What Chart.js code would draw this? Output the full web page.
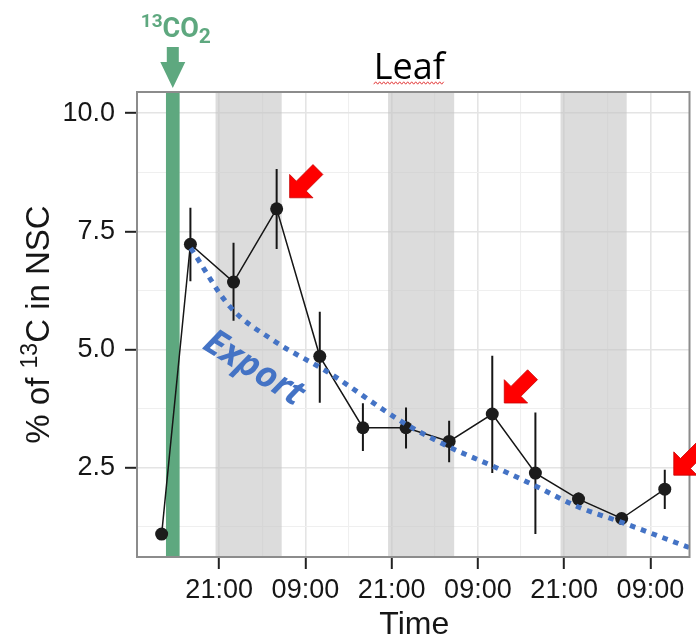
<!DOCTYPE html>
<html>
<head>
<meta charset="utf-8">
<script src="https://cdn.jsdelivr.net/npm/chart.js@4.4.1/dist/chart.umd.min.js"></script>
<style>
  html, body { margin: 0; padding: 0; background: #fff; }
  #wrap { width: 696px; height: 639px; position: relative; }
</style>
</head>
<body>
<div id="wrap"><canvas id="leaf"></canvas></div>
<script>
// Sampling times, in hours counted from midnight of day 1
const sampleHours = [13, 17, 23, 29, 35, 41, 47, 53, 59, 65, 71, 77, 83];
// Mean % of 13C in NSC and the ends of each error bar
const meanPct = [1.10, 7.23, 6.43, 7.98, 4.86, 3.35, 3.35, 3.06, 3.64, 2.39, 1.84, 1.43, 2.05];
const errLow  = [1.10, 6.45, 5.61, 7.13, 3.88, 2.86, 2.91, 2.62, 2.39, 1.10, 1.67, 1.37, 1.63];
const errHigh = [1.10, 8.00, 7.26, 8.82, 5.80, 3.87, 3.78, 3.50, 4.87, 3.67, 1.98, 1.49, 2.46];

// Export trend line
const exportHours = [17.05, 22.5, 28.4, 36.3, 46.4, 52.9, 58.9, 65.0, 70.9, 76.8, 86.5];
const exportPct   = [7.15, 5.91, 5.21, 4.51, 3.48, 2.95, 2.55, 2.12, 1.68, 1.36, 0.81];

// Dark periods and the labelling pulse (hours)
const nightStart = [20.5, 44.5, 68.5];
const nightEnd   = [29.7, 53.7, 77.7];
const pulseWindow = [13.6, 15.5];

// Axis ticks
const yTickValues = [1.25, 2.5, 3.75, 5, 6.25, 7.5, 8.75, 10];
const yMajor = [2.5, 5, 7.5, 10];
const xTickHours = [15, 21, 27, 33, 39, 45, 51, 57, 63, 69, 75, 81];
const xMajor = [21, 33, 45, 57, 69, 81];

// Peaks marked with red arrows
const highlighted = [3, 8, 12];

const GREEN = '#5ea87f';
const BLUE = '#4473c5';
const INK = '#161616';
const SANS = '"Liberation Sans", Arial, sans-serif';

const clockLabel = h => String(h % 24).padStart(2, '0') + ':00';

const backdrop = {
  id: 'backdrop',
  beforeDatasetsDraw(chart) {
    const { ctx, chartArea: a, scales: { x, y } } = chart;
    ctx.save();
    ctx.beginPath();
    ctx.rect(a.left, a.top, a.right - a.left, a.bottom - a.top);
    ctx.clip();
    // night shading
    ctx.fillStyle = 'rgba(196,196,196,0.6)';
    nightStart.forEach((s, i) => {
      const x0 = x.getPixelForValue(s), x1 = x.getPixelForValue(nightEnd[i]);
      ctx.fillRect(x0, a.top, x1 - x0, a.bottom - a.top);
    });
    // 13CO2 pulse
    const g0 = x.getPixelForValue(pulseWindow[0]), g1 = x.getPixelForValue(pulseWindow[1]);
    ctx.fillStyle = GREEN;
    ctx.fillRect(g0, a.top, g1 - g0, a.bottom - a.top);
    // error bars
    ctx.strokeStyle = INK;
    ctx.lineWidth = 2;
    sampleHours.forEach((h, i) => {
      if (errHigh[i] - errLow[i] <= 0) return;
      const px = x.getPixelForValue(h);
      ctx.beginPath();
      ctx.moveTo(px, y.getPixelForValue(errLow[i]));
      ctx.lineTo(px, y.getPixelForValue(errHigh[i]));
      ctx.stroke();
    });
    ctx.restore();
  }
};

function drawBlockArrow(ctx, tx, ty) {
  // arrow pointing down-left, tip at (tx, ty)
  const L = 40, hl = 16.5, hw = 16.5, sw = 7;
  const u = [-Math.SQRT1_2, Math.SQRT1_2];
  const n = [Math.SQRT1_2, Math.SQRT1_2];
  const pt = (a, p) => [tx - a * u[0] + p * n[0], ty - a * u[1] + p * n[1]];
  const pts = [pt(0, 0), pt(hl, hw), pt(hl, sw), pt(L, sw), pt(L, -sw), pt(hl, -sw), pt(hl, -hw)];
  ctx.beginPath();
  pts.forEach((p, i) => i ? ctx.lineTo(p[0], p[1]) : ctx.moveTo(p[0], p[1]));
  ctx.closePath();
  ctx.fillStyle = '#ff0000';
  ctx.fill();
  ctx.strokeStyle = '#c80000';
  ctx.lineWidth = 0.8;
  ctx.stroke();
}

const arrowOffsets = [[13, -11], [12, -11], [9, -14]];
const exportLabel = { hour: 25.8, value: 4.6, angle: 32 };

const overlay = {
  id: 'overlay',
  afterDraw(chart) {
    const { ctx, chartArea: a, scales: { x, y } } = chart;
    ctx.save();

    // panel border
    ctx.strokeStyle = '#8c8c8c';
    ctx.lineWidth = 2;
    ctx.strokeRect(a.left, a.top, a.right - a.left, a.bottom - a.top);

    // "Export" label along the trend
    ctx.save();
    ctx.translate(x.getPixelForValue(exportLabel.hour), y.getPixelForValue(exportLabel.value));
    ctx.rotate(exportLabel.angle * Math.PI / 180);
    ctx.font = 'italic bold 36px "Open Sans", sans-serif';
    ctx.fillStyle = BLUE;
    ctx.textAlign = 'center';
    ctx.textBaseline = 'middle';
    ctx.fillText('Export', 0, 0);
    ctx.restore();

    // red arrows at the peaks
    highlighted.forEach((idx, k) => {
      const px = x.getPixelForValue(sampleHours[idx]);
      const py = y.getPixelForValue(meanPct[idx]);
      drawBlockArrow(ctx, px + arrowOffsets[k][0], py + arrowOffsets[k][1]);
    });

    // panel title with spelling squiggle
    ctx.font = '36px "Open Sans", sans-serif';
    ctx.fillStyle = '#000';
    ctx.textAlign = 'center';
    ctx.textBaseline = 'alphabetic';
    const tcx = (a.left + a.right) / 2 - 4;
    ctx.fillText('Leaf', tcx, 79);
    const tw = ctx.measureText('Leaf').width;
    ctx.beginPath();
    ctx.strokeStyle = '#e23b3b';
    ctx.lineWidth = 1;
    for (let sx = tcx - tw / 2, k = 0; sx <= tcx + tw / 2; sx += 2, k++) {
      const sy = 83 + (k % 2 ? -1.2 : 1.2);
      k ? ctx.lineTo(sx, sy) : ctx.moveTo(sx, sy);
    }
    ctx.stroke();

    // 13CO2 pulse marker
    const gcx = (x.getPixelForValue(pulseWindow[0]) + x.getPixelForValue(pulseWindow[1])) / 2;
    ctx.fillStyle = GREEN;
    ctx.beginPath();
    ctx.moveTo(gcx - 6, 47);
    ctx.lineTo(gcx + 6, 47);
    ctx.lineTo(gcx + 6, 62);
    ctx.lineTo(gcx + 12.5, 62);
    ctx.lineTo(gcx, 88);
    ctx.lineTo(gcx - 12.5, 62);
    ctx.lineTo(gcx - 6, 62);
    ctx.closePath();
    ctx.fill();

    const parts = [
      ['13', 'bold 19px Roboto, sans-serif', 27],
      ['CO', 'bold 27px Roboto, sans-serif', 37],
      ['2', 'bold 21px Roboto, sans-serif', 43]
    ];
    let total = 0;
    parts.forEach(p => { ctx.font = p[1]; total += ctx.measureText(p[0]).width; });
    let cx = gcx + 3 - total / 2;
    ctx.textAlign = 'left';
    parts.forEach(p => {
      ctx.font = p[1];
      ctx.fillText(p[0], cx, p[2]);
      cx += ctx.measureText(p[0]).width;
    });

    // y axis title with superscript
    ctx.save();
    ctx.translate(49, (a.top + a.bottom) / 2);
    ctx.rotate(-Math.PI / 2);
    ctx.fillStyle = INK;
    const yParts = [
      ['% of ', '33px ' + SANS, 0],
      ['13', '23px ' + SANS, -12],
      ['C in NSC', '33px ' + SANS, 0]
    ];
    let yw = 0;
    yParts.forEach(p => { ctx.font = p[1]; yw += ctx.measureText(p[0]).width; });
    let yx = -yw / 2;
    ctx.textAlign = 'left';
    yParts.forEach(p => {
      ctx.font = p[1];
      ctx.fillText(p[0], yx, p[2]);
      yx += ctx.measureText(p[0]).width;
    });
    ctx.restore();

    // x axis title
    ctx.font = '32px ' + SANS;
    ctx.fillStyle = INK;
    ctx.textAlign = 'center';
    ctx.fillText('Time', (a.left + a.right) / 2 + 1, 634);

    ctx.restore();
  }
};

new Chart(document.getElementById('leaf'), {
  type: 'line',
  data: {
    datasets: [
      {
        label: 'Export',
        data: exportHours.map((h, i) => ({ x: h, y: exportPct[i] })),
        borderColor: BLUE,
        borderWidth: 5,
        borderDash: [5.5, 6],
        pointRadius: 0,
        fill: false,
        cubicInterpolationMode: 'monotone',
        order: 0
      },
      {
        label: '% of 13C in NSC',
        data: sampleHours.map((h, i) => ({ x: h, y: meanPct[i] })),
        borderColor: INK,
        borderWidth: 1.5,
        pointRadius: 6.5,
        pointBackgroundColor: '#1c1c1c',
        pointBorderColor: '#1c1c1c',
        pointBorderWidth: 0,
        tension: 0,
        fill: false,
        order: 1
      }
    ]
  },
  options: {
    responsive: true,
    maintainAspectRatio: false,
    animation: false,
    layout: { padding: { top: 92, right: 4, left: 0, bottom: 0 } },
    plugins: { legend: { display: false }, tooltip: { enabled: false }, title: { display: false } },
    scales: {
      x: {
        type: 'linear',
        min: 9.57,
        max: 86.44,
        afterBuildTicks(scale) { scale.ticks = xTickHours.map(v => ({ value: v })); },
        afterFit(scale) { scale.height = 82; },
        border: { display: false },
        grid: {
          color: c => xMajor.includes(c.tick && c.tick.value) ? '#e4e4e4' : '#efefef',
          lineWidth: c => xMajor.includes(c.tick && c.tick.value) ? 1.6 : 1.1,
          tickLength: 12,
          tickWidth: 2,
          tickColor: c => xMajor.includes(c.tick && c.tick.value) ? '#222' : 'rgba(0,0,0,0)'
        },
        ticks: {
          autoSkip: false,
          maxRotation: 0,
          padding: 5,
          color: INK,
          font: { family: SANS, size: 27 },
          callback: v => xMajor.includes(v) ? clockLabel(v) : ''
        }
      },
      y: {
        type: 'linear',
        min: 0.616,
        max: 10.45,
        afterBuildTicks(scale) { scale.ticks = yTickValues.map(v => ({ value: v })); },
        afterFit(scale) { scale.width = 137; },
        border: { display: false },
        grid: {
          color: c => yMajor.includes(c.tick && c.tick.value) ? '#e4e4e4' : '#efefef',
          lineWidth: c => yMajor.includes(c.tick && c.tick.value) ? 1.6 : 1.1,
          tickLength: 12,
          tickWidth: 2,
          tickColor: c => yMajor.includes(c.tick && c.tick.value) ? '#222' : 'rgba(0,0,0,0)'
        },
        ticks: {
          padding: 10,
          color: INK,
          font: { family: SANS, size: 27 },
          callback: v => yMajor.includes(v) ? v.toFixed(1) : ''
        }
      }
    }
  },
  plugins: [backdrop, overlay]
});
</script>
</body>
</html>
